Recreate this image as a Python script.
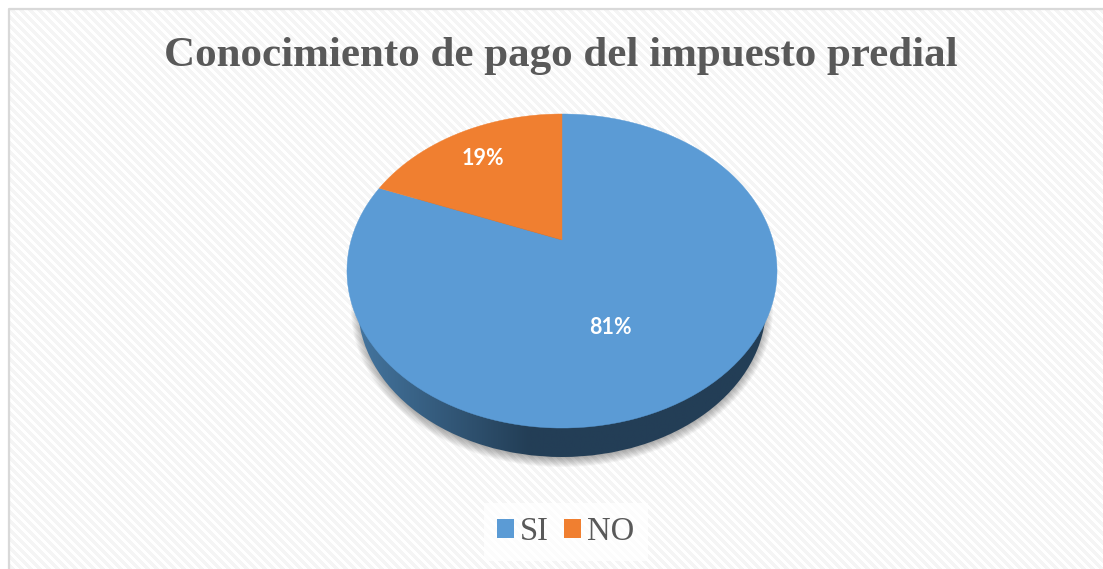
import numpy as np, seaborn as sns, matplotlib.pyplot as plt
from matplotlib.patches import Polygon, Ellipse, Patch, Rectangle
from matplotlib.transforms import Affine2D

categories = ['SI', 'NO']
values = [81, 19]
colores = ['#5B9BD5', '#F07F30']
titulo = 'Conocimiento de pago del impuesto predial'

sns.set_theme(style='white')
sns.set_palette(colores)
plt.rcParams['font.family'] = ['Liberation Serif', 'DejaVu Serif']

W, H = 1103, 569
fig = plt.figure(figsize=(W / 100, H / 100), dpi=100)
ax = fig.add_axes([0, 0, 1, 1])

# perspectiva del pastel: circulo unitario -> pixeles
C, A, D = 0.1975, -103.5, 210.8
def persp(xy):
    w = 1 + C * xy[:, 1]
    return np.column_stack([562 + D * xy[:, 0] / w, (A * xy[:, 1] + 240) / w])

wedges, _ = ax.pie(values, colors=sns.color_palette(colores), startangle=90, counterclock=False)

# pasa cada sector de la torta a la perspectiva
caras = []
for w, col in zip(wedges, colores):
    poly = w.get_path().to_polygons(Affine2D().scale(500), closed_only=False)[0] / 500
    caras.append((persp(poly), col))
    w.remove()

ax.set_aspect('auto')
ax.axis('off')

# fondo a rayas
yy, xx = np.mgrid[0:H, 0:W]
rayas = ((xx - yy) % 9 < 4.5).astype(float)
ax.imshow(rayas, cmap=sns.blend_palette(['#ffffff', '#f5f5f5'], as_cmap=True), extent=(0, W, H, 0),
          aspect='auto', zorder=0, interpolation='bilinear')
ax.add_patch(Rectangle((0, 0), 9, H, fc='white', ec='none', zorder=1))
ax.add_patch(Rectangle((0, 0), W, 8, fc='white', ec='none', zorder=1))
ax.plot([9, 9, W], [H, 9, 9], color='#d9d9d9', lw=1.6, zorder=1.5)

# sombra debajo del pastel
for i in range(10):
    ax.add_patch(Ellipse((562, 309), 2 * (202 + i), 2 * (149 + i), fc='black', ec='none', alpha=0.035, zorder=2))

# pared lateral con degradado
pared = Ellipse((562, 306), 408, 302, fc='none', ec='none', zorder=3)
ax.add_patch(pared)
grad = np.clip(np.linspace(0, 1, 256) / 0.42, 0, 1).reshape(1, -1)
img = ax.imshow(grad, cmap=sns.blend_palette(['#44759f', '#233e56'], as_cmap=True), extent=(356, 768, 457, 150),
                aspect='auto', zorder=3)
img.set_clip_path(pared)
ax.set_xlim(0, W)
ax.set_ylim(H, 0)

for verts, col in caras:
    ax.add_patch(Polygon(verts, closed=True, fc=col, ec=col, lw=0.3, zorder=4))

# etiquetas de datos
ax.text(483, 158, '19%', family='Lato', weight='bold', color='white', fontsize=15.5, ha='center', va='center', zorder=5)
ax.text(610, 327, '81%', family='Lato', weight='bold', color='white', fontsize=15.5, ha='center', va='center', zorder=5)

ax.text(561, 56, titulo, weight='bold', color='#595959', fontsize=31, ha='center', va='center', zorder=5)

handles = [Patch(fc=c, ec='none') for c in colores]
leg = ax.legend(handles, categories, loc='center', bbox_to_anchor=(566 / W, 1 - 532 / H), ncol=2, frameon=True,
                facecolor='white', edgecolor='none', framealpha=0.8, fontsize=23.5, labelcolor='#595959',
                handlelength=0.52, handleheight=0.52, handletextpad=0.18, columnspacing=0.47, borderpad=0.42,
                borderaxespad=0, fancybox=False)
leg.set_zorder(6)

fig.savefig('out.png', dpi=100)
